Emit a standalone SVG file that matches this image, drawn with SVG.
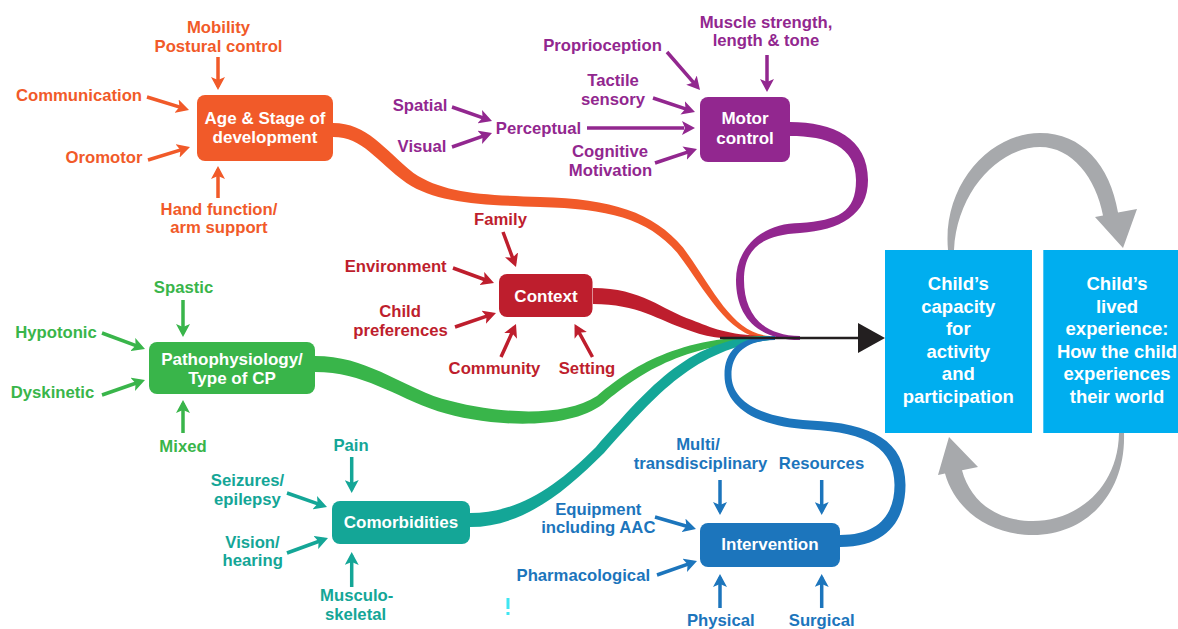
<svg xmlns="http://www.w3.org/2000/svg" width="1178" height="629" viewBox="0 0 1178 629">
<style>
text{font-family:"Liberation Sans",Arial,Helvetica,sans-serif;font-weight:700;text-anchor:middle}
.l{font-size:16.7px}
.bt{font-size:17px;fill:#fff}
.rt{font-size:18.5px;fill:#fff}
.or{fill:#F15A29}.pu{fill:#92278F}.rd{fill:#BE1E2D}.gr{fill:#39B54A}.te{fill:#14A697}.bl{fill:#1C75BC}
.a{fill:none;stroke-width:3.5}
.ao{stroke:#F15A29;marker-end:url(#mo)}.ap{stroke:#92278F;marker-end:url(#mp)}.ar{stroke:#BE1E2D;marker-end:url(#mr)}
.ag{stroke:#39B54A;marker-end:url(#mg)}.at{stroke:#14A697;marker-end:url(#mt)}.ab{stroke:#1C75BC;marker-end:url(#mb)}
</style>
<defs>
<marker id="mo" viewBox="0 0 13 14" refX="13" refY="7" markerWidth="13" markerHeight="14" markerUnits="userSpaceOnUse" orient="auto"><path d="M0,0 L13,7 L0,14 L3,7 Z" fill="#F15A29"/></marker>
<marker id="mp" viewBox="0 0 13 14" refX="13" refY="7" markerWidth="13" markerHeight="14" markerUnits="userSpaceOnUse" orient="auto"><path d="M0,0 L13,7 L0,14 L3,7 Z" fill="#92278F"/></marker>
<marker id="mr" viewBox="0 0 13 14" refX="13" refY="7" markerWidth="13" markerHeight="14" markerUnits="userSpaceOnUse" orient="auto"><path d="M0,0 L13,7 L0,14 L3,7 Z" fill="#BE1E2D"/></marker>
<marker id="mg" viewBox="0 0 13 14" refX="13" refY="7" markerWidth="13" markerHeight="14" markerUnits="userSpaceOnUse" orient="auto"><path d="M0,0 L13,7 L0,14 L3,7 Z" fill="#39B54A"/></marker>
<marker id="mt" viewBox="0 0 13 14" refX="13" refY="7" markerWidth="13" markerHeight="14" markerUnits="userSpaceOnUse" orient="auto"><path d="M0,0 L13,7 L0,14 L3,7 Z" fill="#14A697"/></marker>
<marker id="mb" viewBox="0 0 13 14" refX="13" refY="7" markerWidth="13" markerHeight="14" markerUnits="userSpaceOnUse" orient="auto"><path d="M0,0 L13,7 L0,14 L3,7 Z" fill="#1C75BC"/></marker>
</defs>
<rect width="1178" height="629" fill="#fff"/>

<g id="connectors">
  <!-- ribbons -->
  <path fill="#F15A29" d="M 333 123 C 367 123, 384 149, 413.5 173 C 443 193, 481 195, 540 197 C 612 199, 653 212, 683 247.5 C 713 288, 732 334, 770 336 L 770 340 C 728 338, 707 292, 677 252.5 C 647 218, 608 209, 540 207 C 479 205, 437 203, 406.5 183 C 376 161, 363 137, 333 137 Z"/>
  <path fill="#92278F" d="M 790 122 C 833 122, 868 138, 868 180 C 868 215, 840 230, 800 233 C 760 235, 744 250, 744 280 C 744 313, 762 336, 800 336 L 800 340 C 758 340, 736 317, 736 280 C 736 250, 760 223, 800 223 C 838 220, 856 213, 856 180 C 856 146, 827 136, 790 136 Z"/>
  <path fill="#BE1E2D" d="M 593 288 C 642 288, 662 310, 692 320 C 712 328, 730 336, 770 336 L 770 340 C 730 340, 708 338, 688 330 C 658 320, 638 304, 593 304 Z"/>
  <path fill="#39B54A" d="M 315 356 C 366 356, 397 384, 442 398.8 C 492 413, 562 419, 597 396 C 627 371, 673 336, 770 336 L 770 340 C 677 344, 633 379, 603 404 C 568 431, 488 427, 438 411.2 C 393 396, 364 372, 315 372 Z"/>
  <path fill="#14A697" d="M 470 513 C 518 513, 556 487, 596 447 C 646 392, 688 336, 770 336 L 770 340 C 692 350, 654 398, 604 453 C 564 493, 522 527, 470 527 Z"/>
  <path fill="#1C75BC" d="M 840 535 C 880 535, 894.5 513, 894.5 485 C 894.5 449, 868 432, 810 429.5 C 758 427, 724.5 408, 724.5 375 C 724.5 348, 743 336, 775 336 L 775 340 C 748 340, 731.5 352, 731.5 375 C 731.5 402, 762 418, 810 420.5 C 872 423, 905.5 441, 905.5 485 C 905.5 517, 890 547, 840 547 Z"/>
  <!-- main arrow -->
  <path d="M 720 338 L 860 338" stroke="#231F20" stroke-width="2.5" fill="none"/>
  <polygon points="858,323 885,338 858,353" fill="#231F20"/>
  <!-- cycle arrows -->
  <path fill="#A7A9AC" d="M 948 250 C 942 185, 990 133, 1040 133 C 1082 133, 1110 165, 1118 212.6 L 1137 209 L 1123 248 L 1095 217 L 1103 215.5 C 1096 178, 1072 147, 1040 147 C 1000 147, 957 190, 954 250 Z"/>
  <path fill="#A7A9AC" d="M 1124 433 C 1126 495, 1085 535, 1033 535 C 990 535, 955 510, 945 473.6 L 938 475 L 949 437 L 978 467 L 962 470.2 C 970 500, 995 521, 1033 521 C 1075 521, 1118 490, 1119 433 Z"/>
  <!-- small arrows: orange -->
  <path class="a ao" pathLength="100" stroke-dasharray="90 10" d="M218 57 L218 90"/>
  <path class="a ao" pathLength="100" stroke-dasharray="90 10" d="M147 97 L189 110"/>
  <path class="a ao" pathLength="100" stroke-dasharray="90 10" d="M148 160 L190 147"/>
  <path class="a ao" pathLength="100" stroke-dasharray="90 10" d="M218 198 L218 166"/>
  <!-- purple -->
  <path class="a ap" pathLength="100" stroke-dasharray="90 10" d="M767 55 L767 92"/>
  <path class="a ap" pathLength="100" stroke-dasharray="90 10" d="M667 52 L700 90"/>
  <path class="a ap" pathLength="100" stroke-dasharray="90 10" d="M653 98 L695 112"/>
  <path class="a ap" pathLength="100" stroke-dasharray="90 10" d="M452 107 L492 121"/>
  <path class="a ap" pathLength="100" stroke-dasharray="90 10" d="M452 147 L492 133"/>
  <path class="a ap" pathLength="100" stroke-dasharray="90 10" d="M587 128 L695 128"/>
  <path class="a ap" pathLength="100" stroke-dasharray="90 10" d="M655 163 L697 149"/>
  <!-- red -->
  <path class="a ar" pathLength="100" stroke-dasharray="90 10" d="M503 232 L516 267"/>
  <path class="a ar" pathLength="100" stroke-dasharray="90 10" d="M453 268 L494 283"/>
  <path class="a ar" pathLength="100" stroke-dasharray="90 10" d="M455 327 L496 313"/>
  <path class="a ar" pathLength="100" stroke-dasharray="90 10" d="M501 357 L516 324"/>
  <path class="a ar" pathLength="100" stroke-dasharray="90 10" d="M592.5 357 L574.5 324"/>
  <!-- green -->
  <path class="a ag" pathLength="100" stroke-dasharray="90 10" d="M183 300 L183 337"/>
  <path class="a ag" pathLength="100" stroke-dasharray="90 10" d="M102 333 L145 349"/>
  <path class="a ag" pathLength="100" stroke-dasharray="90 10" d="M102 395 L145 380"/>
  <path class="a ag" pathLength="100" stroke-dasharray="90 10" d="M183 433 L183 400"/>
  <!-- teal -->
  <path class="a at" pathLength="100" stroke-dasharray="90 10" d="M351.7 457 L351.7 493"/>
  <path class="a at" pathLength="100" stroke-dasharray="90 10" d="M287 493 L327 507"/>
  <path class="a at" pathLength="100" stroke-dasharray="90 10" d="M287 553 L328 538"/>
  <path class="a at" pathLength="100" stroke-dasharray="90 10" d="M351.7 587 L351.7 552"/>
  <!-- blue -->
  <path class="a ab" pathLength="100" stroke-dasharray="90 10" d="M720 480 L720 515"/>
  <path class="a ab" pathLength="100" stroke-dasharray="90 10" d="M821.7 480 L821.7 515"/>
  <path class="a ab" pathLength="100" stroke-dasharray="90 10" d="M655 517 L696 529"/>
  <path class="a ab" pathLength="100" stroke-dasharray="90 10" d="M657 575 L697 561"/>
  <path class="a ab" pathLength="100" stroke-dasharray="90 10" d="M720 608 L720 574"/>
  <path class="a ab" pathLength="100" stroke-dasharray="90 10" d="M821.7 608 L821.7 574"/>
</g>

<g id="node-age">
  <rect x="197" y="95" width="136" height="66" rx="8" fill="#F15A29"/>
  <text class="bt" x="265" y="123.5">Age &amp; Stage of</text>
  <text class="bt" x="265" y="143">development</text>
</g>
<g id="labels-age">
  <g id="lbl-mobility"><text class="l or" x="218.5" y="33">Mobility</text><text class="l or" x="218.5" y="52">Postural control</text></g>
  <g id="lbl-communication"><text class="l or" x="79" y="101">Communication</text></g>
  <g id="lbl-oromotor"><text class="l or" x="104" y="163">Oromotor</text></g>
  <g id="lbl-hand"><text class="l or" x="219" y="214.5">Hand function/</text><text class="l or" x="219" y="232.5">arm support</text></g>
</g>

<g id="node-motor">
  <rect x="700" y="97" width="90" height="65" rx="8" fill="#92278F"/>
  <text class="bt" x="745" y="124">Motor</text>
  <text class="bt" x="745" y="144">control</text>
</g>
<g id="labels-motor">
  <g id="lbl-muscle"><text class="l pu" x="766" y="27.5">Muscle strength,</text><text class="l pu" x="766" y="45.5">length &amp; tone</text></g>
  <g id="lbl-proprioception"><text class="l pu" x="602.5" y="51">Proprioception</text></g>
  <g id="lbl-tactile"><text class="l pu" x="613" y="86">Tactile</text><text class="l pu" x="613" y="104.5">sensory</text></g>
  <g id="lbl-spatial"><text class="l pu" x="420" y="111">Spatial</text></g>
  <g id="lbl-visual"><text class="l pu" x="422" y="152">Visual</text></g>
  <g id="lbl-perceptual"><text class="l pu" x="538.5" y="133.5">Perceptual</text></g>
  <g id="lbl-cognitive"><text class="l pu" x="610" y="157">Cognitive</text><text class="l pu" x="610.5" y="176">Motivation</text></g>
</g>

<g id="node-context">
  <rect x="499" y="274" width="93.5" height="43" rx="8" fill="#BE1E2D"/>
  <text class="bt" x="546" y="301.5">Context</text>
</g>
<g id="labels-context">
  <g id="lbl-family"><text class="l rd" x="500.5" y="225">Family</text></g>
  <g id="lbl-environment"><text class="l rd" x="395.7" y="272">Environment</text></g>
  <g id="lbl-child-pref"><text class="l rd" x="400" y="317">Child</text><text class="l rd" x="400.5" y="335.5">preferences</text></g>
  <g id="lbl-community"><text class="l rd" x="494.5" y="373.5">Community</text></g>
  <g id="lbl-setting"><text class="l rd" x="587" y="373.5">Setting</text></g>
</g>

<g id="node-patho">
  <rect x="149" y="342" width="166" height="52" rx="8" fill="#39B54A"/>
  <text class="bt" x="232" y="365">Pathophysiology/</text>
  <text class="bt" x="232" y="383.5">Type of CP</text>
</g>
<g id="labels-patho">
  <g id="lbl-spastic"><text class="l gr" x="183.5" y="293">Spastic</text></g>
  <g id="lbl-hypotonic"><text class="l gr" x="56" y="338">Hypotonic</text></g>
  <g id="lbl-dyskinetic"><text class="l gr" x="52.5" y="398">Dyskinetic</text></g>
  <g id="lbl-mixed"><text class="l gr" x="183" y="451.7">Mixed</text></g>
</g>

<g id="node-comorbidities">
  <rect x="332" y="501" width="138" height="43" rx="8" fill="#14A697"/>
  <text class="bt" x="401" y="528.3">Comorbidities</text>
</g>
<g id="labels-comorbidities">
  <g id="lbl-pain"><text class="l te" x="351" y="450.7">Pain</text></g>
  <g id="lbl-seizures"><text class="l te" x="247.5" y="486">Seizures/</text><text class="l te" x="247.5" y="504.5">epilepsy</text></g>
  <g id="lbl-vision"><text class="l te" x="252.5" y="547.5">Vision/</text><text class="l te" x="252.7" y="565.5">hearing</text></g>
  <g id="lbl-musculo"><text class="l te" x="356.7" y="601">Musculo-</text><text class="l te" x="355.5" y="619.5">skeletal</text></g>
</g>

<g id="node-intervention">
  <rect x="700" y="523" width="140" height="44" rx="8" fill="#1C75BC"/>
  <text class="bt" x="770" y="550">Intervention</text>
</g>
<g id="labels-intervention">
  <g id="lbl-multi"><text class="l bl" x="698" y="450">Multi/</text><text class="l bl" x="700.5" y="468.5">transdisciplinary</text></g>
  <g id="lbl-resources"><text class="l bl" x="821.5" y="468.5">Resources</text></g>
  <g id="lbl-equipment"><text class="l bl" x="598.3" y="514.5">Equipment</text><text class="l bl" x="598.3" y="532.5">including AAC</text></g>
  <g id="lbl-pharma"><text class="l bl" x="583.3" y="580.7">Pharmacological</text></g>
  <g id="lbl-physical"><text class="l bl" x="720.8" y="626">Physical</text></g>
  <g id="lbl-surgical"><text class="l bl" x="821.7" y="626">Surgical</text></g>
</g>

<g id="node-capacity">
  <rect x="885" y="250" width="147" height="183" fill="#00AEEF"/>
  <text class="rt" x="958.3" y="290">Child’s</text>
  <text class="rt" x="958.3" y="312.5">capacity</text>
  <text class="rt" x="958.3" y="335">for</text>
  <text class="rt" x="958.3" y="357.5">activity</text>
  <text class="rt" x="958.3" y="380">and</text>
  <text class="rt" x="958.3" y="402.5">participation</text>
</g>
<g id="node-experience">
  <rect x="1043.3" y="250" width="140" height="183" fill="#00AEEF"/>
  <text class="rt" x="1117" y="290">Child’s</text>
  <text class="rt" x="1117" y="312.5">lived</text>
  <text class="rt" x="1117" y="335">experience:</text>
  <text class="rt" x="1117" y="357.5">How the child</text>
  <text class="rt" x="1117" y="380">experiences</text>
  <text class="rt" x="1117" y="402.5">their world</text>
</g>

<g id="artifact">
  <rect x="506.5" y="598" width="3" height="11" fill="#3FE6F2"/>
  <rect x="506.5" y="612" width="3" height="3" fill="#3FE6F2"/>
</g>
</svg>
